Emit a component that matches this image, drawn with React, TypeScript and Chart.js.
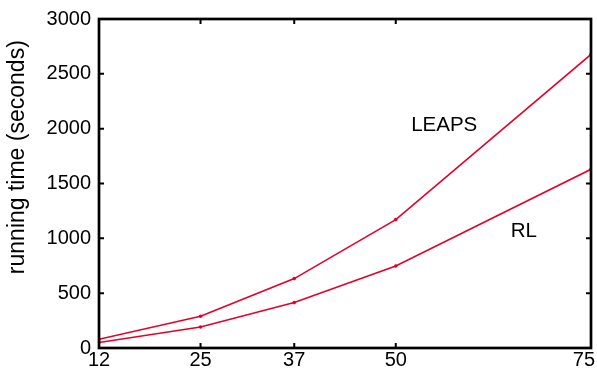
import React, { useEffect, useRef } from 'react';
import { Chart, registerables } from 'chart.js';

Chart.register(...registerables);

const xValues = [12, 25, 37, 50, 75];
const leapsValues = [80, 290, 633, 1171, 2677];
const rlValues = [50, 192, 414, 748, 1630];
const xTickValues = [12, 25, 37, 50, 75];
const yTickValues = [0, 500, 1000, 1500, 2000, 2500, 3000];
const seriesLabels = ['LEAPS', 'RL'];
const seriesLabelX = [56.2, 66.4];
const seriesLabelY = [2027, 1060];
const yAxisTitle = 'running time (seconds)';
const yAxisTitleCenterValue = 1740;

const FONT = '"Liberation Sans", Arial, Helvetica, sans-serif';
const RED = '#e4002b';

const framePlugin = {
  id: 'frameTicks',
  afterDatasetsDraw(chart: any) {
    const { ctx, chartArea, scales, width } = chart;
    const { left, right, top, bottom } = chartArea;
    const x = scales.x;
    const y = scales.y;
    ctx.save();
    ctx.strokeStyle = '#000';
    ctx.lineWidth = 2.7;
    ctx.strokeRect(left, top, right - left, bottom - top);
    ctx.lineWidth = 2;
    const tl = 5;
    ctx.beginPath();
    xTickValues.forEach((v) => {
      const px = x.getPixelForValue(v);
      if (px <= left + 1 || px >= right - 1) return;
      ctx.moveTo(px, bottom);
      ctx.lineTo(px, bottom - tl);
      ctx.moveTo(px, top);
      ctx.lineTo(px, top + tl);
    });
    yTickValues.forEach((v) => {
      const py = y.getPixelForValue(v);
      if (py <= top + 1 || py >= bottom - 1) return;
      ctx.moveTo(left, py);
      ctx.lineTo(left + tl, py);
      ctx.moveTo(right, py);
      ctx.lineTo(right - tl, py);
    });
    ctx.stroke();

    ctx.fillStyle = '#000';
    // x tick labels, kept inside the canvas
    ctx.font = '20px ' + FONT;
    ctx.textAlign = 'center';
    ctx.textBaseline = 'alphabetic';
    xTickValues.forEach((v) => {
      const label = String(v);
      const w = ctx.measureText(label).width;
      let px = x.getPixelForValue(v);
      px = Math.min(px, width - 2 - w / 2);
      ctx.fillText(label, px, bottom + 17.5);
    });

    ctx.font = '20.5px ' + FONT;
    ctx.textBaseline = 'middle';
    seriesLabels.forEach((t, i) => {
      ctx.fillText(t, x.getPixelForValue(seriesLabelX[i]), y.getPixelForValue(seriesLabelY[i]));
    });
    // y axis title
    ctx.save();
    ctx.translate(18, y.getPixelForValue(yAxisTitleCenterValue));
    ctx.rotate(-Math.PI / 2);
    ctx.font = '23px ' + FONT;
    ctx.fillText(yAxisTitle, 0, 0);
    ctx.restore();
    ctx.restore();
  },
};

export default function App() {
  const canvasRef = useRef<HTMLCanvasElement | null>(null);

  useEffect(() => {
    const canvas = canvasRef.current;
    if (!canvas) return;
    const chart = new Chart(canvas, {
      type: 'line',
      data: {
        datasets: [
          {
            label: seriesLabels[0],
            data: xValues.map((xv, i) => ({ x: xv, y: leapsValues[i] })),
            borderColor: RED,
            backgroundColor: RED,
            borderWidth: 1.6,
            pointRadius: 1.8,
            pointBorderWidth: 0,
            tension: 0,
          },
          {
            label: seriesLabels[1],
            data: xValues.map((xv, i) => ({ x: xv, y: rlValues[i] })),
            borderColor: RED,
            backgroundColor: RED,
            borderWidth: 1.6,
            pointRadius: 1.8,
            pointBorderWidth: 0,
            tension: 0,
          },
        ],
      },
      options: {
        responsive: false,
        animation: false,
        devicePixelRatio: 1,
        layout: { padding: { top: 19, right: 6, left: 0, bottom: 0 } },
        plugins: {
          legend: { display: false },
          tooltip: { enabled: false },
        },
        scales: {
          x: {
            type: 'linear',
            min: 12,
            max: 75,
            afterBuildTicks: (s: any) => {
              s.ticks = xTickValues.map((v) => ({ value: v }));
            },
            ticks: { display: false },
            grid: { display: false, drawTicks: false },
            border: { display: false },
            afterFit: (s: any) => {
              s.height = 24;
              s.paddingLeft = 0;
              s.paddingRight = 0;
            },
          },
          y: {
            type: 'linear',
            min: 0,
            max: 3000,
            afterBuildTicks: (s: any) => {
              s.ticks = yTickValues.map((v) => ({ value: v }));
            },
            ticks: {
              font: { size: 20, family: FONT },
              color: '#000',
              padding: 8,
              autoSkip: false,
              callback: (v: any) => String(v),
            },
            grid: { display: false, drawTicks: false },
            border: { display: false },
            title: { display: false },
            afterFit: (s: any) => {
              s.width = 99;
              s.paddingTop = 0;
              s.paddingBottom = 0;
            },
          },
        },
      },
      plugins: [framePlugin],
    } as any);
    return () => chart.destroy();
  }, []);

  return (
    <div style={{ position: 'fixed', left: 0, top: 0, width: 597, height: 372, background: '#fff' }}>
      <canvas ref={canvasRef} width={597} height={372} style={{ display: 'block' }} />
    </div>
  );
}
